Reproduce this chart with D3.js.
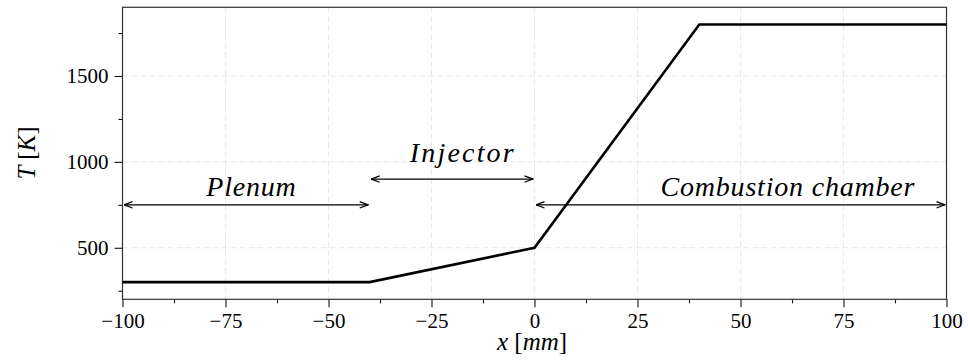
<!DOCTYPE html>
<html><head><meta charset="utf-8">
<script src="https://cdn.jsdelivr.net/npm/d3@7"></script>
<style>
body{margin:0;background:#fff;}
svg text{font-family:"Liberation Serif","DejaVu Serif",serif;}
</style></head>
<body><svg id="c" width="968" height="361"></svg>
<script>
// data
const xs = [-100, -40, 0, 40, 100];
const temps = [300, 300, 500, 1800, 1800];
const xTicks = [-100, -75, -50, -25, 0, 25, 50, 75, 100];
const xMinor = [-87.5, -62.5, -37.5, -12.5, 12.5, 37.5, 62.5, 87.5];
const yTicks = [500, 1000, 1500];
const yMinor = [250, 750, 1250, 1750];
const regions = [
  {label: "Plenum", x0: -100, x1: -40, ay: 750, tx: -68.7, ty: 800},
  {label: "Injector", x0: -40, x1: 0, ay: 900, tx: -17.4, ty: 1000},
  {label: "Combustion chamber", x0: 0, x1: 100, ay: 750, tx: 61.5, ty: 800}
];

const svg = d3.select("#c");
const L = 122.5, R = 946.5, T = 7.3, B = 299.3;
const x = d3.scaleLinear().domain([-100, 100]).range([L, R]);
const y = d3.scaleLinear().domain([200, 1900]).range([B, T]);
const fmt = v => (v < 0 ? "\u2212" + Math.abs(v) : String(v));

// grid
const g = svg.append("g");
g.selectAll(".gx").data(xTicks).join("line")
  .attr("x1", d => x(d)).attr("x2", d => x(d)).attr("y1", T).attr("y2", B)
  .attr("stroke", "#e8e8e8").attr("stroke-width", 1).attr("stroke-dasharray", "6,3");
g.selectAll(".gy").data(yTicks).join("line")
  .attr("y1", d => y(d)).attr("y2", d => y(d)).attr("x1", L).attr("x2", R)
  .attr("stroke", "#e8e8e8").attr("stroke-width", 1).attr("stroke-dasharray", "6,3");

// axes
const xAxis = d3.axisBottom(x).tickValues(xTicks).tickFormat(fmt).tickSize(8).tickPadding(6);
const xAxisMinor = d3.axisBottom(x).tickValues(xMinor).tickFormat("").tickSize(4);
const yAxis = d3.axisLeft(y).tickValues(yTicks).tickFormat(fmt).tickSize(8).tickPadding(6);
const yAxisMinor = d3.axisLeft(y).tickValues(yMinor).tickFormat("").tickSize(4);

function style(sel){
  sel.select(".domain").remove();
  sel.attr("font-size", null).attr("font-family", null);
  sel.selectAll("line").attr("stroke", "#111").attr("stroke-width", 1.1);
  sel.selectAll("text").attr("fill", "#000")
     .style("font-size", "21px")
     .style("font-family", "'Liberation Serif',serif");
}
svg.append("g").attr("transform", `translate(0,${B})`).call(xAxis).call(style);
svg.append("g").attr("transform", `translate(0,${B})`).call(xAxisMinor).call(style);
svg.append("g").attr("transform", `translate(${L},0)`).call(yAxis).call(style);
svg.append("g").attr("transform", `translate(${L},0)`).call(yAxisMinor).call(style);

// frame
svg.append("rect").attr("x", L).attr("y", T).attr("width", R - L).attr("height", B - T)
  .attr("fill", "none").attr("stroke", "#333").attr("stroke-width", 1.2);

// data line
const pts = xs.map((v, i) => [v, temps[i]]);
svg.append("path").datum(pts)
  .attr("d", d3.line().x(d => x(d[0])).y(d => y(d[1])))
  .attr("fill", "none").attr("stroke", "#000").attr("stroke-width", 2.6)
  .attr("stroke-linejoin", "miter");

// arrows
const defs = svg.append("defs");
defs.append("marker").attr("id", "ah").attr("viewBox", "0 0 10 10")
  .attr("refX", 9.5).attr("refY", 5).attr("markerWidth", 10).attr("markerHeight", 10)
  .attr("markerUnits", "userSpaceOnUse").attr("orient", "auto-start-reverse")
  .append("path").attr("d", "M1,1.8 L9.5,5 L1,8.2").attr("fill", "none")
  .attr("stroke", "#000").attr("stroke-width", 1.2);

const shrink = 1.5;
regions.forEach(r => {
  svg.append("line")
    .attr("x1", x(r.x0) + shrink).attr("x2", x(r.x1) - shrink)
    .attr("y1", y(r.ay)).attr("y2", y(r.ay))
    .attr("stroke", "#000").attr("stroke-width", 1.2)
    .attr("marker-start", "url(#ah)").attr("marker-end", "url(#ah)");
  svg.append("text").attr("x", x(r.tx)).attr("y", y(r.ty))
    .attr("text-anchor", "middle").attr("font-size", 28).attr("font-style", "italic")
    .attr("letter-spacing", r.label === "Injector" ? 2.2 : 0.8)
    .text(r.label);
});

// axis labels
svg.append("text").attr("x", 532).attr("y", 350).attr("text-anchor", "middle")
  .attr("font-size", 25).attr("font-style", "italic")
  .html('x <tspan font-style="normal">[</tspan>mm<tspan font-style="normal">]</tspan>');
svg.append("text").attr("transform", "translate(35,153) rotate(-90)").attr("text-anchor", "middle")
  .attr("font-size", 25).attr("font-style", "italic")
  .html('T <tspan font-style="normal">[</tspan>K<tspan font-style="normal">]</tspan>');
</script></body></html>
